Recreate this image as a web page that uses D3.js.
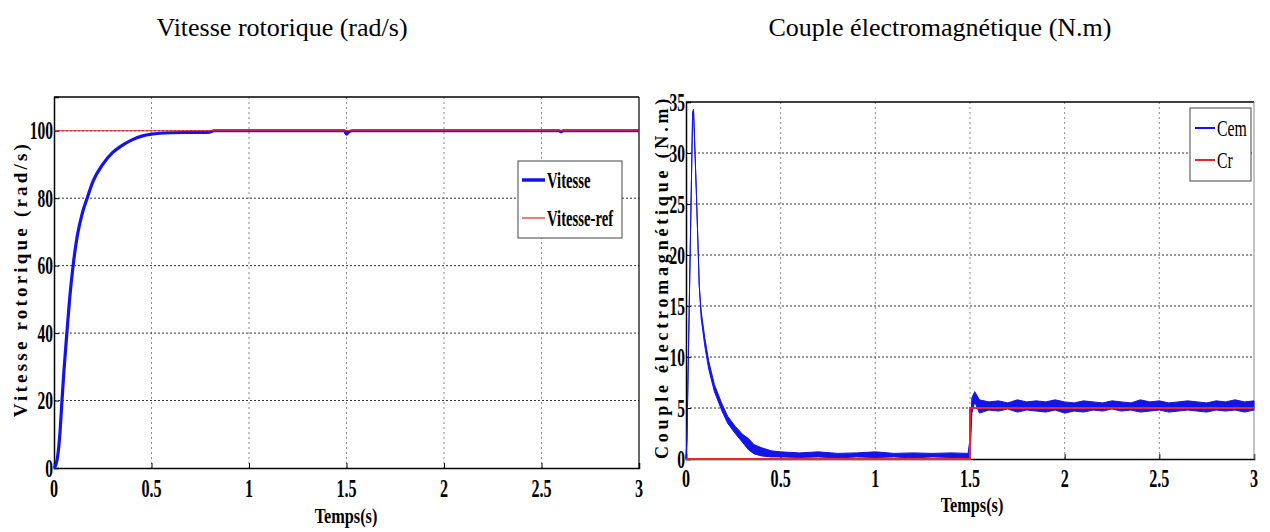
<!DOCTYPE html>
<html>
<head>
<meta charset="utf-8">
<script src="https://cdn.jsdelivr.net/npm/d3@7"></script>
<style>
  body { margin: 0; background: #fff; }
  svg { display: block; }
  text { font-family: "Liberation Serif", "Times New Roman", serif; fill: #000; }
</style>
</head>
<body>
<div id="chart"></div>
<script>
// --- data ---
const timeTicks = [0, 0.5, 1, 1.5, 2, 2.5, 3];
const timeTickLabels = ["0", "0.5", "1", "1.5", "2", "2.5", "3"];
const speedTicks = [0, 20, 40, 60, 80, 100];
const torqueTicks = [0, 5, 10, 15, 20, 25, 30, 35];

// speed (rad/s)
const speedT = [0, 0.01, 0.02, 0.03, 0.041, 0.05, 0.066, 0.08, 0.098, 0.12, 0.145, 0.17, 0.2, 0.25, 0.3, 0.34, 0.4, 0.45, 0.5, 0.6, 0.7, 0.8, 0.82, 1.0, 1.49, 1.5, 1.51, 1.53, 2.0, 2.59, 2.6, 2.61, 3.0];
const speedV = [0, 1, 4, 10, 20, 28, 40, 50, 60, 69, 75.5, 80, 85, 90, 93.5, 95.3, 97.3, 98.4, 99, 99.4, 99.5, 99.6, 100, 100, 100, 99, 99.6, 100, 100, 100, 99.7, 100, 100];
const speedRefT = [0, 3];
const speedRefV = [100, 100];

// electromagnetic torque (N.m), noisy band given as low / high envelope
const cemT  = [0, 0.005, 0.02, 0.035, 0.04, 0.055, 0.07, 0.08, 0.1, 0.12, 0.15, 0.19, 0.22, 0.26, 0.3, 0.33, 0.36, 0.4, 0.45, 0.5,
  0.6, 0.7, 0.8, 0.9, 1.0, 1.1, 1.2, 1.3, 1.4, 1.49, 1.5, 1.51, 1.525,
  1.55, 1.6, 1.65, 1.7, 1.75, 1.8, 1.85, 1.9, 1.95, 2.0, 2.05, 2.1, 2.15, 2.2, 2.25, 2.3, 2.35, 2.4, 2.45, 2.5,
  2.55, 2.6, 2.65, 2.7, 2.75, 2.8, 2.85, 2.9, 2.95, 3.0];
const cemLo = [0, 2, 18, 34, 34, 26, 17, 13.8, 11, 8.8, 6.6, 4.7, 3.5, 2.5, 1.6, 0.9, 0.5, 0.3, 0.2, 0.2,
  0.15, 0.2, 0.1, 0.2, 0.15, 0.2, 0.1, 0.2, 0.15, 0.1, 0.1, 4.5, 5.6,
  4.5, 4.8, 4.7, 4.9, 4.6, 4.8, 4.7, 4.6, 4.8, 4.5, 4.7, 4.6, 4.8, 4.7, 4.9, 4.7, 4.8, 4.6, 4.7, 4.8,
  4.6, 4.7, 4.8, 4.7, 4.6, 4.8, 4.7, 4.8, 4.6, 4.8];
const cemHi = [0, 2, 18, 34, 34.3, 26, 17, 14.5, 11.8, 9.6, 7.3, 5.4, 4.2, 3.2, 2.4, 2.0, 1.4, 1.1, 0.8, 0.7,
  0.6, 0.7, 0.55, 0.6, 0.7, 0.55, 0.6, 0.55, 0.6, 0.55, 2, 6, 6.6,
  5.8, 5.6, 5.7, 5.5, 5.8, 5.6, 5.7, 5.6, 5.8, 5.6, 5.5, 5.7, 5.6, 5.5, 5.7, 5.6, 5.5, 5.8, 5.6, 5.7,
  5.5, 5.6, 5.7, 5.6, 5.5, 5.7, 5.6, 5.8, 5.6, 5.7];
const crT = [0, 1.5, 1.5, 3];
const crV = [0, 0, 5, 5];

const W = 1270, H = 532;
const svg = d3.select("#chart").append("svg").attr("width", W).attr("height", H);

// top titles
svg.append("text").attr("x", 282).attr("y", 36).attr("text-anchor", "middle")
  .style("font-size", "26px").text("Vitesse rotorique (rad/s)");
svg.append("text").attr("x", 940).attr("y", 36).attr("text-anchor", "middle")
  .style("font-size", "26px").text("Couple électromagnétique (N.m)");

const blue = "#1414e6", red = "#e8262b";

function narrowText(g, x, y, str, size, anchor, bold, sx) {
  return g.append("text")
    .attr("transform", `translate(${x},${y}) scale(${sx || 0.62},1)`)
    .attr("text-anchor", anchor)
    .style("font-size", size + "px")
    .style("font-weight", bold ? "bold" : "normal")
    .text(str);
}

function drawPanel(cfg) {
  const x = d3.scaleLinear().domain([0, 3]).range([cfg.left, cfg.right]);
  const y = d3.scaleLinear().domain(cfg.yDomain).range([cfg.bottom, cfg.top]);
  const g = svg.append("g");

  // grid
  g.append("g").selectAll("line").data(timeTicks.slice(1, -1)).join("line")
    .attr("x1", d => x(d)).attr("x2", d => x(d))
    .attr("y1", cfg.top).attr("y2", cfg.bottom)
    .attr("stroke", "#8a8a8a").attr("stroke-width", 1).attr("stroke-dasharray", "2,3");
  g.append("g").selectAll("line").data(cfg.yTicks.slice(1).filter(d => y(d) > cfg.top + 1)).join("line")
    .attr("x1", cfg.left).attr("x2", cfg.right)
    .attr("y1", d => y(d)).attr("y2", d => y(d))
    .attr("stroke", "#333").attr("stroke-width", 1).attr("stroke-dasharray", "2,2");

  // axes with inward ticks
  g.append("g").attr("transform", `translate(0,${cfg.bottom})`)
    .call(d3.axisBottom(x).tickValues(timeTicks).tickSize(-5).tickFormat(""))
    .call(a => a.select(".domain").attr("stroke", "#000").attr("stroke-width", 1.5));
  g.append("g").attr("transform", `translate(${cfg.left},0)`)
    .call(d3.axisLeft(y).tickValues(cfg.yTicks).tickSize(-5).tickFormat(""))
    .call(a => a.select(".domain").attr("stroke", "#000").attr("stroke-width", 1.5));
  g.append("line").attr("x1", cfg.left).attr("x2", cfg.right).attr("y1", cfg.top).attr("y2", cfg.top)
    .attr("stroke", "#000").attr("stroke-width", 1.5);
  g.append("line").attr("x1", cfg.right).attr("x2", cfg.right).attr("y1", cfg.top).attr("y2", cfg.bottom)
    .attr("stroke", cfg.rightColor).attr("stroke-width", 1.2);

  // tick labels
  timeTicks.forEach((t, i) => narrowText(g, x(t), cfg.xLabelY, timeTickLabels[i], 26, "middle", true));
  cfg.yTicks.forEach(v => narrowText(g, cfg.left - 1, y(v) + 8.5, String(v), 25, "end", true));

  // axis titles
  narrowText(g, cfg.xTitleX, cfg.xTitleY, "Temps(s)", 22, "middle", true, 0.74);
  g.append("text")
    .attr("transform", `translate(${cfg.yTitleX},${cfg.yTitleY}) rotate(-90)`)
    .attr("text-anchor", "middle")
    .style("font-size", cfg.yTitleSize + "px").style("font-weight", "bold")
    .style("letter-spacing", cfg.yTitleSpacing + "px")
    .text(cfg.yTitle);

  return { g, x, y };
}

// ---- left panel: speed ----
const p1 = drawPanel({
  left: 54, right: 639, top: 97, bottom: 468, yDomain: [0, 110], yTicks: speedTicks,
  xLabelY: 497, xTitleX: 346, xTitleY: 523, yTitleX: 27, yTitleY: 279,
  yTitle: "Vitesse rotorique (rad/s)", yTitleSize: 19, yTitleSpacing: 3.2, rightColor: "#000"
});
const speedLine = d3.line().x(d => p1.x(d[0])).y(d => p1.y(d[1])).curve(d3.curveMonotoneX);
p1.g.append("path").datum(speedT.map((t, i) => [t, speedV[i]]))
  .attr("d", speedLine).attr("fill", "none").attr("stroke", blue).attr("stroke-width", 3.2);
p1.g.append("path").datum(speedRefT.map((t, i) => [t, speedRefV[i]]))
  .attr("d", d3.line().x(d => p1.x(d[0])).y(d => p1.y(d[1])))
  .attr("fill", "none").attr("stroke", red).attr("stroke-width", 1.2);

// legend left
const l1 = p1.g.append("g");
l1.append("rect").attr("x", 518).attr("y", 161).attr("width", 104).attr("height", 77)
  .attr("fill", "#fff").attr("stroke", "#444").attr("stroke-width", 1);
l1.append("line").attr("x1", 522).attr("x2", 545).attr("y1", 180).attr("y2", 180)
  .attr("stroke", blue).attr("stroke-width", 3.5);
l1.append("line").attr("x1", 522).attr("x2", 545).attr("y1", 218).attr("y2", 218)
  .attr("stroke", red).attr("stroke-width", 1.2);
narrowText(l1, 547, 188, "Vitesse", 23, "start", true, 0.64);
narrowText(l1, 547, 226, "Vitesse-ref", 23, "start", true, 0.64);

// ---- right panel: torque ----
const p2 = drawPanel({
  left: 686, right: 1254, top: 102, bottom: 459, yDomain: [0, 35], yTicks: torqueTicks,
  xLabelY: 487, xTitleX: 972, xTitleY: 512, yTitleX: 668, yTitleY: 277,
  yTitle: "Couple électromagnétique (N.m)", yTitleSize: 18, yTitleSpacing: 3.8, rightColor: "#999"
});
const cemRows = cemT.map((t, i) => ({ t, lo: cemLo[i], hi: cemHi[i] }));
p2.g.append("path").datum(cemRows)
  .attr("d", d3.area().x(d => p2.x(d.t)).y0(d => p2.y(d.lo)).y1(d => p2.y(d.hi)))
  .attr("fill", blue).attr("stroke", blue).attr("stroke-width", 1);
p2.g.append("path").datum(crT.map((t, i) => [t, crV[i]]))
  .attr("d", d3.line().x(d => p2.x(d[0])).y(d => p2.y(d[1])))
  .attr("fill", "none").attr("stroke", red).attr("stroke-width", 2);

// legend right
const l2 = p2.g.append("g");
l2.append("rect").attr("x", 1190).attr("y", 108).attr("width", 61).attr("height", 73)
  .attr("fill", "#fff").attr("stroke", "#444").attr("stroke-width", 1);
l2.append("line").attr("x1", 1195).attr("x2", 1215).attr("y1", 128).attr("y2", 128)
  .attr("stroke", blue).attr("stroke-width", 2);
l2.append("line").attr("x1", 1195).attr("x2", 1215).attr("y1", 160).attr("y2", 160)
  .attr("stroke", red).attr("stroke-width", 2);
narrowText(l2, 1217, 136, "Cem", 24, "start", false, 0.66);
narrowText(l2, 1217, 168, "Cr", 24, "start", false, 0.66);
</script>
</body>
</html>
